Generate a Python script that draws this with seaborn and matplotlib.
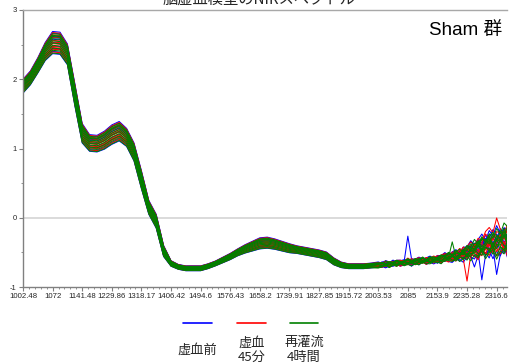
import numpy as np
import pandas as pd
import matplotlib
matplotlib.use("Agg")
import matplotlib.pyplot as plt
from matplotlib.lines import Line2D
from matplotlib.ticker import MultipleLocator
import seaborn as sns

# ---- axis labels (band positions, one tick per unit on the index axis) ----
tick_labels = ["1002.48", "1072", "1141.48", "1229.86", "1318.17", "1406.42",
               "1494.6", "1576.43", "1658.2", "1739.91", "1827.85", "1915.72",
               "2003.53", "2085", "2153.9", "2235.28", "2316.6"]

# ---- spectral shape: smooth part sampled every 1/4 tick, noisy tail every 1/8 ----
body_pos = [i * 0.25 for i in range(48)]          # 0 .. 11.75
tail_pos = [12.0 + i * 0.125 for i in range(36)]  # 12.0 .. 16.375

body_mean = [1.90, 2.02, 2.20, 2.40, 2.53, 2.52, 2.36, 1.78,
             1.22, 1.08, 1.07, 1.12, 1.20, 1.25, 1.16, 0.95,
             0.55, 0.15, -0.05, -0.48, -0.66, -0.71, -0.73, -0.73,
             -0.73, -0.70, -0.66, -0.61, -0.56, -0.50, -0.45, -0.41,
             -0.37, -0.36, -0.38, -0.41, -0.44, -0.46, -0.48, -0.50,
             -0.52, -0.55, -0.63, -0.68, -0.70, -0.70, -0.70, -0.69]
body_spread = [0.10, 0.10, 0.11, 0.13, 0.16, 0.16, 0.15, 0.16,
               0.14, 0.12, 0.12, 0.13, 0.14, 0.14, 0.13, 0.13,
               0.13, 0.10, 0.10, 0.08, 0.04, 0.035, 0.035, 0.035,
               0.035, 0.035, 0.035, 0.04, 0.045, 0.05, 0.06, 0.07,
               0.08, 0.08, 0.075, 0.07, 0.065, 0.055, 0.055, 0.055,
               0.055, 0.055, 0.05, 0.04, 0.035, 0.035, 0.035, 0.035]

tail_mean = [-0.68, -0.68, -0.67, -0.67, -0.66, -0.66, -0.65, -0.65,
             -0.64, -0.64, -0.63, -0.63, -0.62, -0.62, -0.61, -0.61,
             -0.60, -0.59, -0.58, -0.57, -0.56, -0.55, -0.54, -0.52,
             -0.50, -0.48, -0.46, -0.44, -0.42, -0.40, -0.38, -0.37,
             -0.36, -0.35, -0.34, -0.33]
tail_spread = [0.035] * 8 + [0.04] * 8 + \
              [0.045, 0.05, 0.05, 0.055, 0.06, 0.065, 0.07, 0.08,
               0.09, 0.10, 0.11, 0.12, 0.13, 0.14, 0.15, 0.15,
               0.16, 0.17, 0.17, 0.18]
tail_jitter = [0.3, -0.5, 0.8, -0.2, -0.7, 0.5, 0.1, -0.9, 0.6, 0.2, -0.4, 0.9,
               -0.6, 0.0, 0.7, -0.8, 0.4, -0.3, 0.9, -0.7, 0.2, 0.6, -0.9, 0.3,
               -0.2, 0.8, -0.6, 0.1, 0.7, -0.8, 0.5, -0.4, 0.9, -0.5, 0.2, -0.7]

# ---- groups and each spectrum's position within the band (in spread units) ----
groups = ["虚血前", "虚血\n45分", "再灌流\n4時間"]
colors = ["#0000ff", "#ff0000", "#008000"]
offsets_pre = [1.0, 0.85, 0.6, 0.3, 0.0, -0.3, -0.55, -0.8, -1.0, 0.45]
offsets_isch = [0.9, 0.5, 0.2, -0.1, -0.35, -0.6, 0.7, -0.85, 0.05, -0.45]
offsets_rep = [0.8, 0.55, 0.35, 0.15, -0.05, -0.25, -0.5, -0.7, -0.95, 0.65]
group_offsets = [offsets_pre, offsets_isch, offsets_rep]

# isolated spikes in the noisy long-wavelength tail: (group, spectrum, position, delta)
spikes = [(0, 0, 13.0, 0.32), (0, 8, 15.5, -0.30), (0, 7, 16.0, -0.35),
          (0, 6, 15.25, -0.25), (1, 0, 16.0, 0.28), (1, 0, 15.75, 0.15),
          (1, 7, 15.0, -0.30), (2, 3, 14.5, 0.17), (2, 0, 16.25, 0.20)]

positions = body_pos + tail_pos
mean = body_mean + tail_mean
spread = body_spread + tail_spread
n_body = len(body_pos)

rows = []
for g, (name, offs) in enumerate(zip(groups, group_offsets)):
    for k, z in enumerate(offs):
        for j, (p, m, s) in enumerate(zip(positions, mean, spread)):
            v = m + z * s
            if j >= n_body:
                jj = j - n_body
                v += tail_jitter[(jj + 7 * k + 3 * g) % len(tail_jitter)] * 0.6 * s
            for sg, sk, sp, d in spikes:
                if sg == g and sk == k and abs(sp - p) < 1e-9:
                    v += d
            rows.append({"pos": p, "value": v, "group": name, "curve": k})
df = pd.DataFrame(rows)

# ---- figure ----
sns.set_theme(style="white")
plt.rcParams["font.family"] = ["Liberation Sans", "Noto Sans CJK JP", "DejaVu Sans"]

W, H = 509, 363
fig = plt.figure(figsize=(W / 100, H / 100), dpi=100)
ax = fig.add_axes([23 / W, 1 - 287 / H, (507 - 23) / W, (287 - 10) / H])

ax.axhline(0, color="#d4d4d4", lw=1.2, zorder=0)
for name, col in zip(groups, colors):
    sns.lineplot(data=df[df["group"] == name], x="pos", y="value", units="curve",
                 estimator=None, color=col, lw=0.75, legend=False, ax=ax)

ax.set_xlim(0, 16.35)
ax.set_ylim(-1, 3)
ax.set_xticks(range(len(tick_labels)))
ax.set_xticklabels(tick_labels, fontsize=5.6)
ax.xaxis.set_minor_locator(MultipleLocator(0.2))
ax.set_yticks([-1, 0, 1, 2, 3])
ax.set_yticklabels(["-1", "0", "1", "2", "3"], fontsize=5.5)
ax.yaxis.set_minor_locator(MultipleLocator(0.5))
ax.tick_params(axis="both", which="major", length=3, width=0.8, color="#808080",
               pad=1.5, direction="out", bottom=True, left=True)
ax.tick_params(axis="both", which="minor", length=1.5, width=0.6, color="#808080",
               direction="out", bottom=True, left=True)
ax.set_xlabel("")
ax.set_ylabel("")
for side in ["left", "bottom"]:
    ax.spines[side].set_color("#808080")
    ax.spines[side].set_linewidth(1.0)
ax.spines["top"].set_color("#a8a8a8")
ax.spines["top"].set_linewidth(1.0)
ax.spines["right"].set_visible(False)
ax.grid(False)

# group label inside the plot
ax.text(502 / W, 1 - 31 / H, "Sham 群", transform=fig.transFigure,
        ha="right", va="center", fontsize=13.5, color="black",
        family=["Liberation Sans", "Noto Sans CJK JP"])

# title along the top edge, running off the top of the canvas
fig.text(259 / W, 1 - 8 / H, "脳虚血模型のNIRスペクトル", ha="center", va="bottom",
         fontsize=11, family=["Noto Sans CJK JP", "DejaVu Sans"])

# legend below the axes: short line samples with centered labels underneath
legend_x = [(183, 212), (237, 266), (290, 318)]
for (x0, x1), name, col in zip(legend_x, groups, colors):
    fig.add_artist(Line2D([x0 / W, x1 / W], [1 - 323 / H, 1 - 323 / H],
                          color=col, lw=1.2, transform=fig.transFigure))
    fig.text((x0 + x1) / 2 / W, 1 - 350 / H, name, ha="center", va="center",
             fontsize=9.5, linespacing=1.15,
             family=["Noto Sans CJK JP", "DejaVu Sans"])

fig.savefig("out.png", dpi=100)
